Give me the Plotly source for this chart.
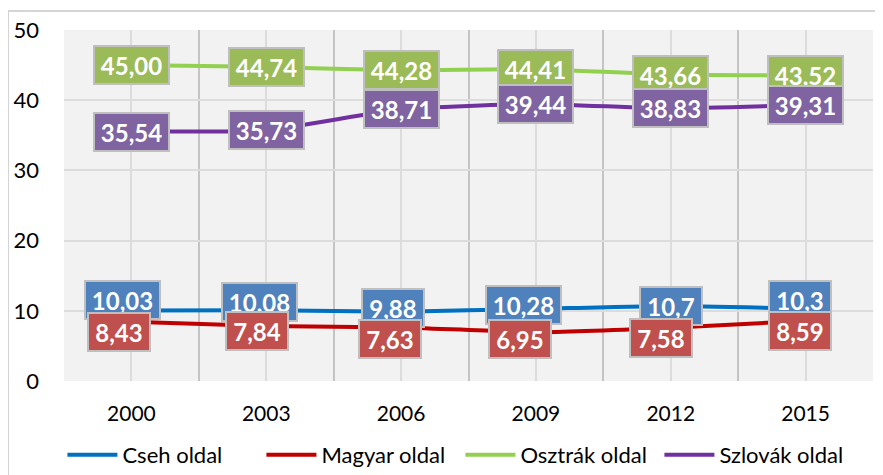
import plotly.graph_objects as go

years = [2000, 2003, 2006, 2009, 2012, 2015]
cseh = [10.03, 10.08, 9.88, 10.28, 10.7, 10.3]
magyar = [8.43, 7.84, 7.63, 6.95, 7.58, 8.59]
osztrak = [45.00, 44.74, 44.28, 44.41, 43.66, 43.52]
szlovak = [35.54, 35.73, 38.71, 39.44, 38.83, 39.31]
cseh_labels = ["10,03", "10,08", "9,88", "10,28", "10,7", "10,3"]
magyar_labels = ["8,43", "7,84", "7,63", "6,95", "7,58", "8,59"]
osztrak_labels = ["45,00", "44,74", "44,28", "44,41", "43,66", "43,52"]
szlovak_labels = ["35,54", "35,73", "38,71", "39,44", "38,83", "39,31"]
series_names = ["Cseh oldal", "Magyar oldal", "Osztrák oldal", "Szlovák oldal"]
y_ticks = [0, 10, 20, 30, 40, 50]

# styles
line_colors = ["#0070C0", "#C00000", "#92D050", "#7030A0"]
box_colors = ["#4F81BD", "#C0504D", "#9BBB59", "#8064A2"]
# manual label offsets (px) as in the original chart
label_shift = [
    [(-8.5, 11), (-7, 8), (-8, 4), (-12.5, 4), (0, 0), (-6, 9)],
    [(-12.5, -10), (-9, -5), (-11, -12), (-16, -7), (-9.5, -10), (-6, -10)],
    [(0, 0)] * 6,
    [(0, 0)] * 6,
]

values = [cseh, magyar, osztrak, szlovak]
labels = [cseh_labels, magyar_labels, osztrak_labels, szlovak_labels]

FONT = "Lato, 'Open Sans', sans-serif"

fig = go.Figure()
for name, vals, col in zip(series_names, values, line_colors):
    fig.add_trace(go.Scatter(
        x=years, y=vals, name=name, mode="lines",
        line=dict(color=col, width=4, shape="spline", smoothing=0.5),
    ))

annotations = []
for si in range(4):
    for xi, yr in enumerate(years):
        txt = labels[si][xi]
        dx, dy = label_shift[si][xi]
        annotations.append(dict(
            x=yr, y=values[si][xi], xref="x", yref="y",
            text="<b>" + txt + "</b>", showarrow=False,
            xshift=dx, yshift=dy,
            font=dict(family=FONT, size=24, color="white"),
            bgcolor=box_colors[si], bordercolor="#BFBFBF",
            borderwidth=2, borderpad=3,
            width=67 if len(txt) >= 5 else 54, height=30,
            align="center", valign="middle",
        ))

minor_vals = [yr - 1.5 for yr in years] + [years[-1] + 1.5]

# page body has an 8px margin: figure sized/positioned to compensate
fig.update_layout(
    width=875, height=467,
    margin=dict(l=56, r=10, t=22, b=94, autoexpand=False),
    paper_bgcolor="white",
    plot_bgcolor="#F2F2F2",
    font=dict(family=FONT, color="black"),
    annotations=annotations,
    showlegend=True,
    legend=dict(
        orientation="h", x=0.49, xanchor="center", y=-0.211, yanchor="middle",
        font=dict(family=FONT, size=22, color="black"),
        bgcolor="rgba(0,0,0,0)", itemwidth=50, tracegroupgap=0,
        entrywidth=134, entrywidthmode="pixels",
    ),
    xaxis=dict(
        range=[minor_vals[0], minor_vals[-1]],
        tickvals=years, ticktext=[str(y) for y in years],
        showgrid=True, gridcolor="#DCDCDC", gridwidth=2,
        minor=dict(tickvals=minor_vals, showgrid=True, gridcolor="#C4C4C4", gridwidth=2, ticklen=0),
        zeroline=False, showline=False, ticks="", automargin=False,
        tickfont=dict(family=FONT, size=21, color="black"),
        ticklabelstandoff=18,
    ),
    yaxis=dict(
        range=[0, 50], tickvals=y_ticks,
        showgrid=True, gridcolor="#DCDCDC", gridwidth=2,
        zeroline=False, showline=False, ticks="", automargin=False,
        tickfont=dict(family=FONT, size=22, color="black"),
        ticklabelstandoff=24,
    ),
    shapes=[dict(
        type="rect", xref="paper", yref="paper",
        x0=-0.0692, x1=1.03, y0=-0.30, y1=1.054,
        line=dict(color="#C8C8C8", width=1.5), fillcolor="rgba(0,0,0,0)",
        layer="below",
    )],
)

fig.write_html("out.html")
